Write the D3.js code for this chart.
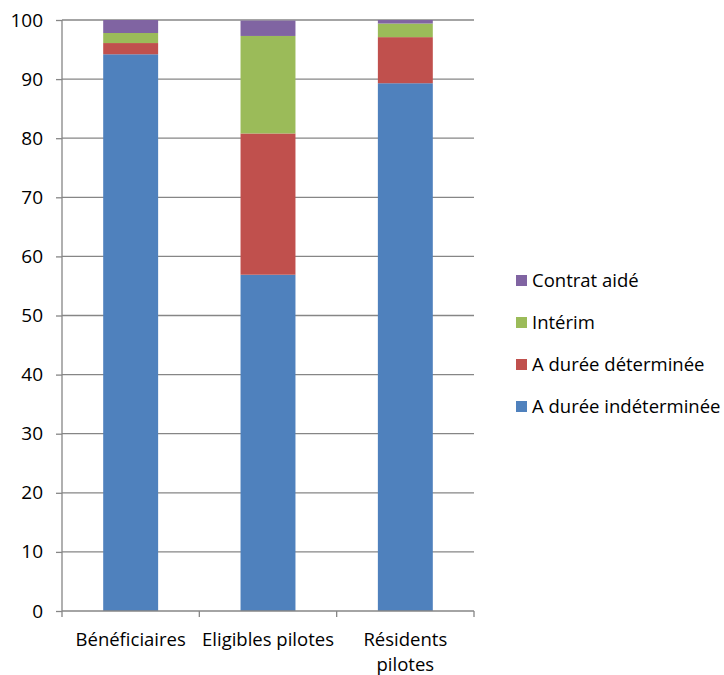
<!DOCTYPE html>
<html><head><meta charset="utf-8">
<script src="https://cdn.jsdelivr.net/npm/d3@7"></script>
<style>body{margin:0;background:#fff}svg{display:block}text{font-family:"Open Sans",sans-serif;fill:#000}</style>
</head><body><svg id="c" width="724" height="675"></svg>
<script>
const categories = ["Bénéficiaires", "Eligibles pilotes", "Résidents pilotes"];
const categoryLines = [["Bénéficiaires"], ["Eligibles pilotes"], ["Résidents", "pilotes"]];
const seriesNames = ["A durée indéterminée", "A durée déterminée", "Intérim", "Contrat aidé"];
const cdi = [94.2, 56.9, 89.3];
const cdd = [1.9, 23.9, 7.8];
const interim = [1.7, 16.5, 2.3];
const aide = [2.2, 2.6, 0.6];
const yTicks = [0, 10, 20, 30, 40, 50, 60, 70, 80, 90, 100];
const colors = ["#4F81BD", "#C0504D", "#9BBB59", "#8064A2"];

const FS = "18.5px";
const svg = d3.select("#c");
const m = {l: 62, r: 250, t: 20, b: 64};
const W = 724, H = 675;
const x = d3.scaleBand().domain(categories).range([m.l, W - m.r]).paddingInner(0.6).paddingOuter(0.3);
const y = d3.scaleLinear().domain([0, 100]).range([H - m.b, m.t]);
const xo = d3.scaleBand().domain(categories).range([m.l, W - m.r]);

// gridlines
svg.append("g").selectAll("line").data(yTicks.filter(d => d > 0)).join("line")
  .attr("x1", m.l).attr("x2", W - m.r).attr("y1", d => y(d)).attr("y2", d => y(d))
  .attr("stroke", "#868686").attr("stroke-width", 1.3);

const rows = categories.map((c, i) => ({cat: c, v: [cdi[i], cdd[i], interim[i], aide[i]]}));
const stack = d3.stack().keys([0, 1, 2, 3]).value((d, k) => d.v[k]);
const series = stack(rows);
svg.append("g").selectAll("g").data(series).join("g").attr("fill", (d, i) => colors[i])
  .selectAll("rect").data(d => d).join("rect")
  .attr("x", d => x(d.data.cat)).attr("width", x.bandwidth())
  .attr("y", d => y(d[1])).attr("height", d => y(d[0]) - y(d[1]));

// y axis
const ya = svg.append("g").attr("transform", `translate(${m.l},0)`)
  .call(d3.axisLeft(y).tickValues(yTicks).tickSize(6).tickPadding(13));
ya.select(".domain").attr("stroke", "#868686").attr("stroke-width", 1.3).attr("d", `M-0,${y(0)}V${y(100)}`);
ya.selectAll(".tick line").attr("stroke", "#868686").attr("stroke-width", 1.3);
ya.selectAll(".tick text").style("font-size", "19px").style("font-family", "'Open Sans', sans-serif").attr("fill", "#000");

// x axis
const xg = svg.append("g");
xg.append("line").attr("x1", m.l).attr("x2", W - m.r).attr("y1", y(0)).attr("y2", y(0)).attr("stroke", "#868686").attr("stroke-width", 1.3);
const bounds = categories.map(c => xo(c)).concat([W - m.r]);
xg.selectAll("line.t").data(bounds).join("line").attr("class", "t")
  .attr("x1", d => d).attr("x2", d => d).attr("y1", y(0)).attr("y2", y(0) + 6)
  .attr("stroke", "#868686").attr("stroke-width", 1.3);
categories.forEach((c, i) => {
  const t = xg.append("text").attr("text-anchor", "middle").style("font-size", FS)
    .attr("x", xo(c) + xo.bandwidth() / 2).attr("y", y(0) + 35);
  categoryLines[i].forEach((ln, j) => t.append("tspan").attr("x", xo(c) + xo.bandwidth() / 2).attr("dy", j ? 25 : 0).text(ln));
});

// legend
const legendOrder = [3, 2, 1, 0];
const lg = svg.append("g");
legendOrder.forEach((k, i) => {
  const cy = 280 + i * 42;
  lg.append("rect").attr("x", 516).attr("y", cy - 5).attr("width", 11).attr("height", 11).attr("fill", colors[k]);
  lg.append("text").attr("x", 532).attr("y", cy + 6.5).style("font-size", FS).text(seriesNames[k]);
});
</script></body></html>
